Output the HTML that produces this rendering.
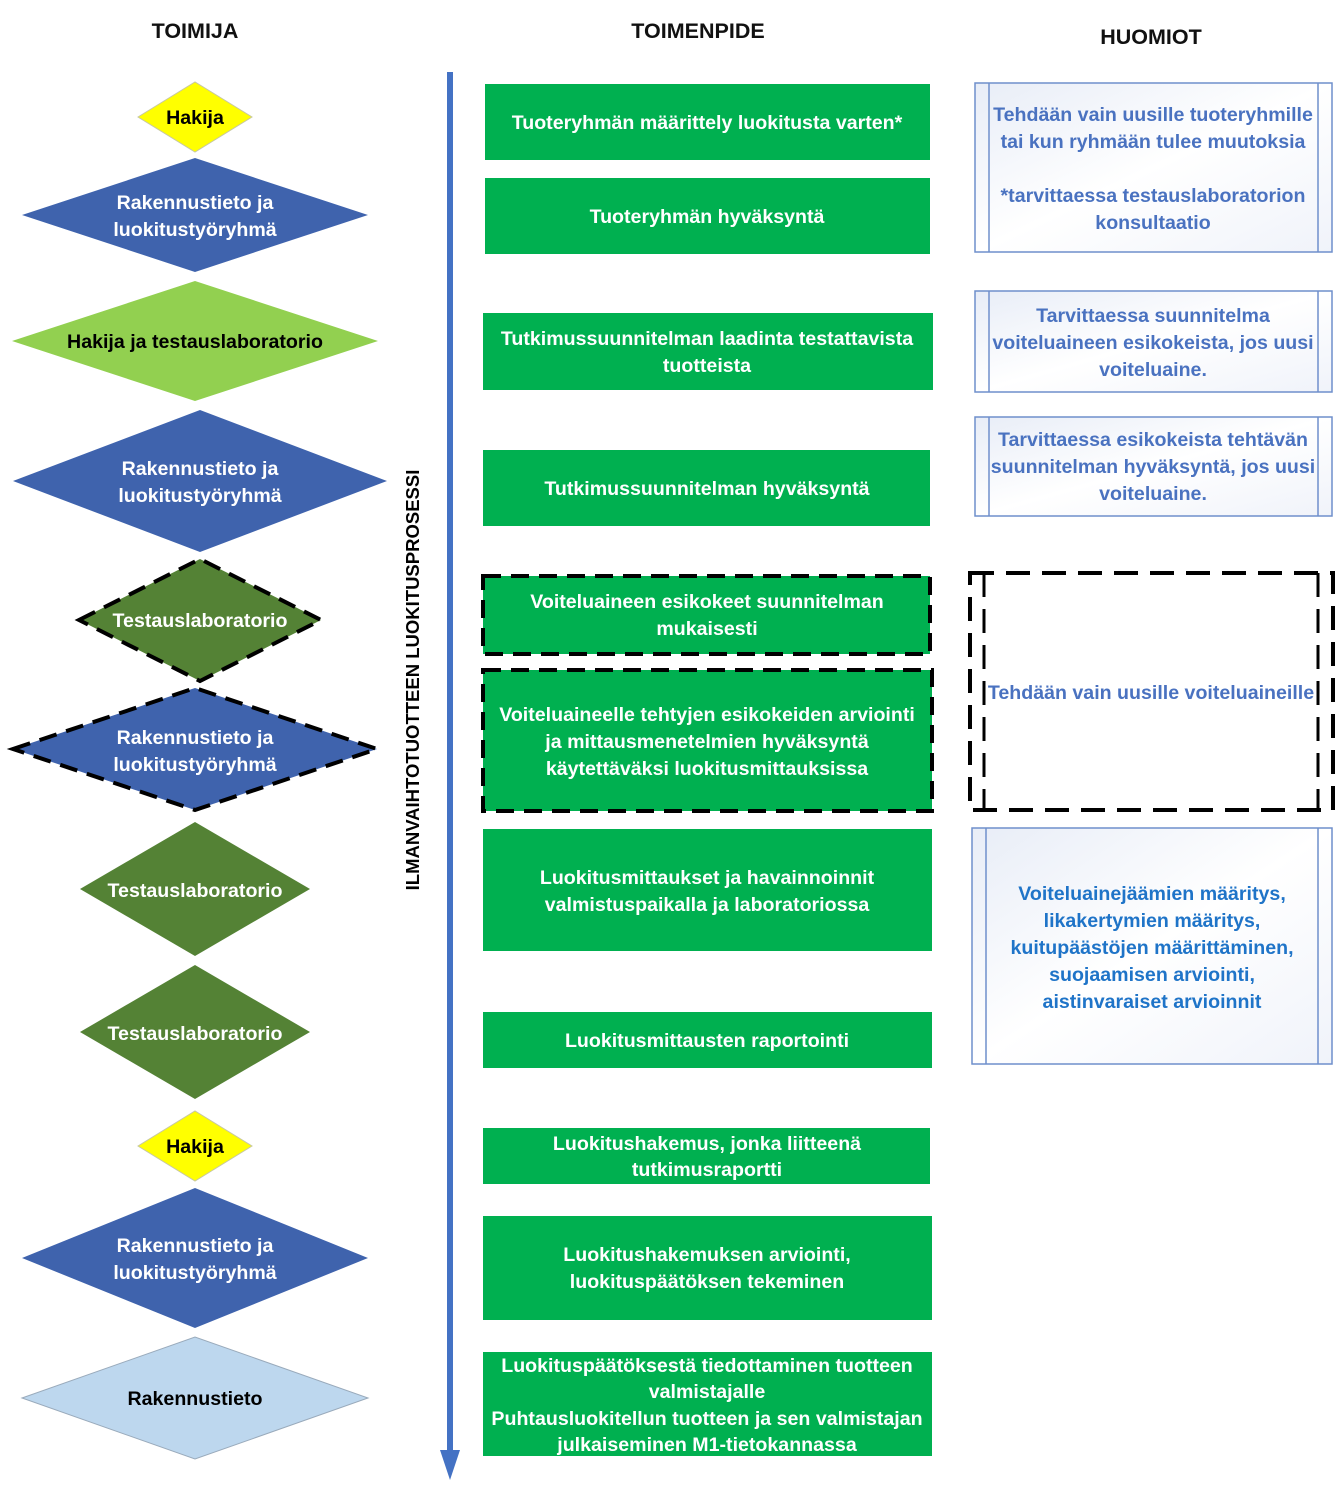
<!DOCTYPE html>
<html><head><meta charset="utf-8"><style>
html,body{margin:0;padding:0;background:#fff}
svg{display:block}
text{font-family:"Liberation Sans",sans-serif;font-weight:bold}
.w{fill:#fff;font-size:19.6px;text-anchor:middle}
.k{fill:#000;font-size:19.6px;text-anchor:middle}
.n{fill:#4a72c0;font-size:19.6px;text-anchor:middle}
.h{fill:#111;font-size:21.5px;text-anchor:middle}
</style></head><body>
<svg width="1342" height="1492" viewBox="0 0 1342 1492" xmlns="http://www.w3.org/2000/svg">
<defs>
<linearGradient id="g" x1="0" y1="0" x2="1" y2="1"><stop offset="0" stop-color="#e8edf7"/><stop offset="0.5" stop-color="#fff"/><stop offset="1" stop-color="#f0f3fa"/></linearGradient>
</defs>
<text class="h" x="195" y="38">TOIMIJA</text>
<text class="h" x="698" y="38">TOIMENPIDE</text>
<text class="h" x="1151" y="44">HUOMIOT</text>

<polygon points="138,117 195,82 252,117 195,152" fill="#ffff00" stroke="#c8c8a0"/>
<text class="k" x="195" y="124">Hakija</text>
<polygon points="22,215 195,158 368,215 195,272" fill="#3f63ad"/>
<text class="w" x="195" y="209">Rakennustieto ja</text><text class="w" x="195" y="236">luokitustyöryhmä</text>
<polygon points="12,341 195,281 378,341 195,401" fill="#92d050"/>
<text class="k" x="195" y="348">Hakija ja testauslaboratorio</text>
<polygon points="13,481 200,410 387,481 200,552" fill="#3f63ad"/>
<text class="w" x="200" y="475">Rakennustieto ja</text><text class="w" x="200" y="502">luokitustyöryhmä</text>
<polygon points="79,620 200,559 321,620 200,681" fill="#548235" stroke="#000" stroke-width="4" stroke-dasharray="18,10"/>
<text class="w" x="200" y="627">Testauslaboratorio</text>
<polygon points="13,749 195,688 377,749 195,810" fill="#3f63ad" stroke="#000" stroke-width="4" stroke-dasharray="18,10"/>
<text class="w" x="195" y="744">Rakennustieto ja</text><text class="w" x="195" y="771">luokitustyöryhmä</text>
<polygon points="80,889 195,822 310,889 195,956" fill="#548235"/>
<text class="w" x="195" y="897">Testauslaboratorio</text>
<polygon points="80,1032 195,965 310,1032 195,1099" fill="#548235"/>
<text class="w" x="195" y="1040">Testauslaboratorio</text>
<polygon points="138,1146 195,1111 252,1146 195,1181" fill="#ffff00" stroke="#c8c8a0"/>
<text class="k" x="195" y="1153">Hakija</text>
<polygon points="22,1258 195,1188 368,1258 195,1328" fill="#3f63ad"/>
<text class="w" x="195" y="1252">Rakennustieto ja</text><text class="w" x="195" y="1279">luokitustyöryhmä</text>
<polygon points="22,1398 195,1337 368,1398 195,1459" fill="#bdd7ee" stroke="#9ab"/>
<text class="k" x="195" y="1405">Rakennustieto</text>

<line x1="450" y1="72" x2="450" y2="1455" stroke="#4472c4" stroke-width="6"/>
<polygon points="440,1450 460,1450 450,1480" fill="#4472c4"/>
<text transform="translate(419,680) rotate(-90)" style="font-size:18.5px;text-anchor:middle;fill:#000">ILMANVAIHTOTUOTTEEN LUOKITUSPROSESSI</text>

<rect x="485" y="84" width="445" height="76" fill="#00b050"/>
<text class="w" x="707" y="129">Tuoteryhmän määrittely luokitusta varten*</text>
<rect x="485" y="178" width="445" height="76" fill="#00b050"/>
<text class="w" x="707" y="223">Tuoteryhmän hyväksyntä</text>
<rect x="483" y="313" width="450" height="77" fill="#00b050"/>
<text class="w" x="707" y="345">Tutkimussuunnitelman laadinta testattavista</text><text class="w" x="707" y="372">tuotteista</text>
<rect x="483" y="450" width="447" height="76" fill="#00b050"/>
<text class="w" x="707" y="495">Tutkimussuunnitelman hyväksyntä</text>
<rect x="483" y="576" width="447" height="78" fill="#00b050" stroke="#000" stroke-width="4" stroke-dasharray="18,10"/>
<text class="w" x="707" y="608">Voiteluaineen esikokeet suunnitelman</text><text class="w" x="707" y="635">mukaisesti</text>
<rect x="483" y="670" width="449" height="141" fill="#00b050" stroke="#000" stroke-width="4" stroke-dasharray="18,10"/>
<text class="w" x="707" y="721">Voiteluaineelle tehtyjen esikokeiden arviointi</text><text class="w" x="707" y="748">ja mittausmenetelmien hyväksyntä</text><text class="w" x="707" y="775">käytettäväksi luokitusmittauksissa</text>
<rect x="483" y="829" width="449" height="122" fill="#00b050"/>
<text class="w" x="707" y="884">Luokitusmittaukset ja havainnoinnit</text><text class="w" x="707" y="911">valmistuspaikalla ja laboratoriossa</text>
<rect x="483" y="1012" width="449" height="56" fill="#00b050"/>
<text class="w" x="707" y="1047">Luokitusmittausten raportointi</text>
<rect x="483" y="1128" width="447" height="56" fill="#00b050"/>
<text class="w" x="707" y="1150">Luokitushakemus, jonka liitteenä</text><text class="w" x="707" y="1176">tutkimusraportti</text>
<rect x="483" y="1216" width="449" height="104" fill="#00b050"/>
<text class="w" x="707" y="1261">Luokitushakemuksen arviointi,</text><text class="w" x="707" y="1288">luokituspäätöksen tekeminen</text>
<rect x="483" y="1352" width="449" height="104" fill="#00b050"/>
<text class="w" x="707" y="1372">Luokituspäätöksestä tiedottaminen tuotteen</text><text class="w" x="707" y="1398">valmistajalle</text><text class="w" x="707" y="1425">Puhtausluokitellun tuotteen ja sen valmistajan</text><text class="w" x="707" y="1451">julkaiseminen M1-tietokannassa</text>

<g fill="url(#g)" stroke="#6f8fcc" stroke-width="1.5">
<rect x="975" y="83" width="357" height="169"/>
<rect x="975" y="291" width="357" height="101"/>
<rect x="975" y="417" width="357" height="99"/>
<rect x="972" y="828" width="360" height="236"/>
</g>
<g stroke="#6f8fcc" stroke-width="1.5">
<line x1="989" y1="83" x2="989" y2="252"/><line x1="1318" y1="83" x2="1318" y2="252"/>
<line x1="989" y1="291" x2="989" y2="392"/><line x1="1318" y1="291" x2="1318" y2="392"/>
<line x1="989" y1="417" x2="989" y2="516"/><line x1="1318" y1="417" x2="1318" y2="516"/>
<line x1="986" y1="828" x2="986" y2="1064"/><line x1="1318" y1="828" x2="1318" y2="1064"/>
</g>
<rect x="970" y="573" width="363" height="237" fill="#fff" stroke="#000" stroke-width="4" stroke-dasharray="24,12"/>
<line x1="984" y1="573" x2="984" y2="810" stroke="#000" stroke-width="3" stroke-dasharray="24,12"/>
<line x1="1318" y1="573" x2="1318" y2="810" stroke="#000" stroke-width="3" stroke-dasharray="24,12"/>

<text class="n" x="1153" y="121">Tehdään vain uusille tuoteryhmille</text>
<text class="n" x="1153" y="148">tai kun ryhmään tulee muutoksia</text>
<text class="n" x="1153" y="202">*tarvittaessa testauslaboratorion</text>
<text class="n" x="1153" y="229">konsultaatio</text>
<text class="n" x="1153" y="322">Tarvittaessa suunnitelma</text>
<text class="n" x="1153" y="349">voiteluaineen esikokeista, jos uusi</text>
<text class="n" x="1153" y="376">voiteluaine.</text>
<text class="n" x="1153" y="446">Tarvittaessa esikokeista tehtävän</text>
<text class="n" x="1153" y="473">suunnitelman hyväksyntä, jos uusi</text>
<text class="n" x="1153" y="500">voiteluaine.</text>
<text class="n" x="1151" y="699">Tehdään vain uusille voiteluaineille</text>
<text class="n" style="fill:#1f74c8" x="1152" y="900">Voiteluainejäämien määritys,</text>
<text class="n" style="fill:#1f74c8" x="1152" y="927">likakertymien määritys,</text>
<text class="n" style="fill:#1f74c8" x="1152" y="954">kuitupäästöjen määrittäminen,</text>
<text class="n" style="fill:#1f74c8" x="1152" y="981">suojaamisen arviointi,</text>
<text class="n" style="fill:#1f74c8" x="1152" y="1008">aistinvaraiset arvioinnit</text>
</svg>
</body></html>
